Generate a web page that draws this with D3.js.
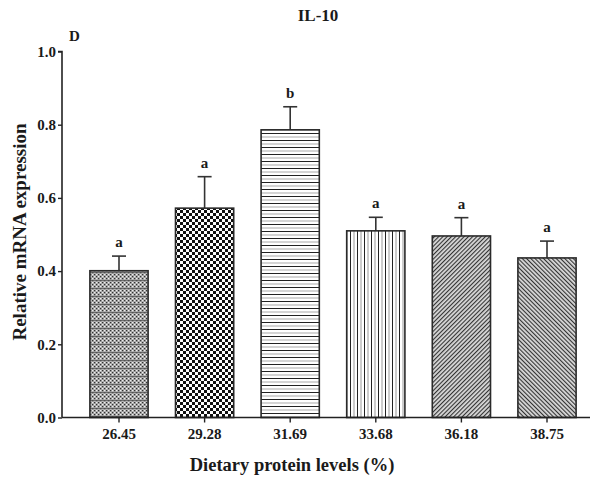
<!DOCTYPE html>
<html>
<head>
<meta charset="utf-8">
<script src="https://cdn.jsdelivr.net/npm/d3@7"></script>
<style>
  html, body { margin: 0; padding: 0; background: #fff; }
  svg text { font-family: "Liberation Serif", "Times New Roman", serif; font-weight: bold; fill: #1a1a1a; }
</style>
</head>
<body>
<svg id="chart" width="597" height="482"></svg>
<script>
// Dietary protein levels and IL-10 relative expression
const categories = ["26.45", "29.28", "31.69", "33.68", "36.18", "38.75"];
const means = [0.401, 0.572, 0.786, 0.510, 0.496, 0.436];
const sems = [0.040, 0.086, 0.063, 0.037, 0.050, 0.046];
const letters = ["a", "a", "b", "a", "a", "a"];
const yTicks = [0.0, 0.2, 0.4, 0.6, 0.8, 1.0];
const patternIds = ["pDots", "pChecker", "pHoriz", "pVert", "pDiagUp", "pDiagDown"];

const svg = d3.select("#chart");
const axisLeft = 62, axisRight = 590, yTop = 51.5, yBottom = 417.5;

const x = d3.scaleBand().domain(categories).range([76.2, 589.8])
  .paddingInner(0.32).paddingOuter(0.16);
const y = d3.scaleLinear().domain([0, 1]).range([yBottom, yTop]);

// Fill patterns for the bars
const defs = svg.append("defs");

// fine dotted grey texture with faint grid
let p = defs.append("pattern").attr("id", "pDots").attr("patternUnits", "userSpaceOnUse")
  .attr("width", 8).attr("height", 8);
p.append("rect").attr("width", 8).attr("height", 8).attr("fill", "#a9a9a9");
for (let i = 0; i < 4; i++) for (let j = 0; j < 4; j++) {
  if ((i + j) % 2 === 0) p.append("rect").attr("x", i * 2).attr("y", j * 2).attr("width", 1.2).attr("height", 1.2).attr("fill", "#333");
  else p.append("rect").attr("x", i * 2).attr("y", j * 2).attr("width", 1.2).attr("height", 1.2).attr("fill", "#eee");
}
p.append("rect").attr("x", 0).attr("y", 0).attr("width", 8).attr("height", 0.8).attr("fill", "#555");

// checkerboard
p = defs.append("pattern").attr("id", "pChecker").attr("patternUnits", "userSpaceOnUse")
  .attr("width", 6).attr("height", 6);
p.append("rect").attr("width", 6).attr("height", 6).attr("fill", "#fff");
p.append("rect").attr("x", 0).attr("y", 0).attr("width", 3).attr("height", 3).attr("fill", "#111");
p.append("rect").attr("x", 3).attr("y", 3).attr("width", 3).attr("height", 3).attr("fill", "#111");

// horizontal stripes
p = defs.append("pattern").attr("id", "pHoriz").attr("patternUnits", "userSpaceOnUse")
  .attr("width", 6).attr("height", 7);
p.append("rect").attr("width", 6).attr("height", 7).attr("fill", "#fff");
p.append("rect").attr("x", 0).attr("y", 0).attr("width", 6).attr("height", 1).attr("fill", "#222");
p.append("rect").attr("x", 0).attr("y", 3.5).attr("width", 6).attr("height", 1).attr("fill", "#aaa");

// vertical stripes
p = defs.append("pattern").attr("id", "pVert").attr("patternUnits", "userSpaceOnUse")
  .attr("width", 7).attr("height", 6);
p.append("rect").attr("width", 7).attr("height", 6).attr("fill", "#fff");
p.append("rect").attr("x", 0).attr("y", 0).attr("width", 1).attr("height", 6).attr("fill", "#222");
p.append("rect").attr("x", 3.5).attr("y", 0).attr("width", 1).attr("height", 6).attr("fill", "#999");

// diagonal "/" hatching
p = defs.append("pattern").attr("id", "pDiagUp").attr("patternUnits", "userSpaceOnUse")
  .attr("width", 3).attr("height", 3).attr("patternTransform", "rotate(45)");
p.append("rect").attr("width", 3).attr("height", 3).attr("fill", "#d8d8d8");
p.append("rect").attr("x", 0).attr("y", 0).attr("width", 1.1).attr("height", 3).attr("fill", "#333");

// diagonal "\" hatching
p = defs.append("pattern").attr("id", "pDiagDown").attr("patternUnits", "userSpaceOnUse")
  .attr("width", 3).attr("height", 3).attr("patternTransform", "rotate(-45)");
p.append("rect").attr("width", 3).attr("height", 3).attr("fill", "#d8d8d8");
p.append("rect").attr("x", 0).attr("y", 0).attr("width", 1.1).attr("height", 3).attr("fill", "#333");

const data = categories.map((c, i) => ({ c, m: means[i], s: sems[i], l: letters[i], p: patternIds[i] }));

// Error bars (upper half only)
const eb = svg.append("g").attr("stroke", "#333").attr("stroke-width", 1.6);
data.forEach(d => {
  const cx = x(d.c) + x.bandwidth() / 2;
  eb.append("line").attr("x1", cx).attr("x2", cx).attr("y1", y(d.m)).attr("y2", y(d.m + d.s));
  eb.append("line").attr("x1", cx - 7).attr("x2", cx + 7).attr("y1", y(d.m + d.s)).attr("y2", y(d.m + d.s));
});

// Bars
svg.append("g").selectAll("rect").data(data).join("rect")
  .attr("x", d => x(d.c)).attr("width", x.bandwidth())
  .attr("y", d => y(d.m)).attr("height", d => y(0) - y(d.m))
  .attr("fill", d => `url(#${d.p})`)
  .attr("stroke", "#2a2a2a").attr("stroke-width", 1.6);

// Significance letters
svg.append("g").selectAll("text").data(data).join("text")
  .attr("x", d => x(d.c) + x.bandwidth() / 2)
  .attr("y", d => y(d.m + d.s) - 9)
  .attr("text-anchor", "middle").attr("font-size", 15)
  .text(d => d.l);

// Y axis
const gy = svg.append("g").attr("transform", `translate(${axisLeft},0)`)
  .call(d3.axisLeft(y).tickValues(yTicks).tickFormat(d3.format(".1f")).tickSize(4).tickPadding(2));
gy.select(".domain").attr("d", `M-4,${yTop}H0V${yBottom}`).attr("stroke", "#222").attr("stroke-width", 1.6);
gy.selectAll(".tick line").attr("stroke", "#222").attr("stroke-width", 1.4);
gy.selectAll(".tick text").attr("font-size", 15).attr("font-family", "Liberation Serif").attr("font-weight", "bold").attr("fill", "#1a1a1a");

// X axis
const gx = svg.append("g").attr("transform", `translate(0,${yBottom})`)
  .call(d3.axisBottom(x).tickSize(5).tickPadding(6));
gx.select(".domain").attr("d", `M${axisLeft},0H${axisRight}`).attr("stroke", "#222").attr("stroke-width", 1.6);
gx.selectAll(".tick line").attr("stroke", "#222").attr("stroke-width", 1.4);
gx.selectAll(".tick text").attr("font-size", 15).attr("font-family", "Liberation Serif").attr("font-weight", "bold").attr("fill", "#1a1a1a");

// Titles and labels
svg.append("text").attr("x", 318).attr("y", 21).attr("text-anchor", "middle").attr("font-size", 17).text("IL-10");
svg.append("text").attr("x", 69).attr("y", 41).attr("font-size", 15).text("D");
svg.append("text").attr("transform", "translate(26,232) rotate(-90)")
  .attr("text-anchor", "middle").attr("font-size", 19).text("Relative mRNA expression");
svg.append("text").attr("x", 292).attr("y", 471).attr("text-anchor", "middle").attr("font-size", 18.5)
  .text("Dietary protein levels (%)");
</script>
</body>
</html>
